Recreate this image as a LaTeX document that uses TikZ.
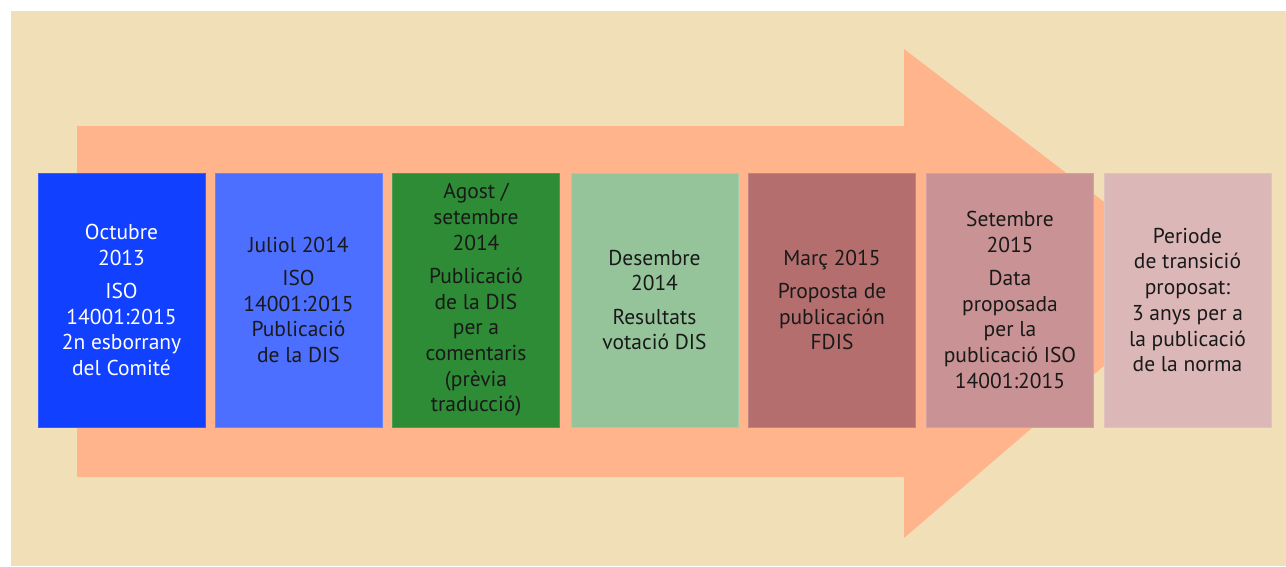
\documentclass[tikz,border=0pt]{standalone}
\usepackage{fontspec}
\setmainfont{PT Sans}
\definecolor{bgbeige}{RGB}{241,224,183}
\definecolor{arrowsalmon}{RGB}{255,180,140}
\definecolor{cA}{RGB}{18,64,255}
\definecolor{cB}{RGB}{77,111,255}
\definecolor{cC}{RGB}{46,139,54}
\definecolor{cD}{RGB}{150,196,154}
\definecolor{cE}{RGB}{181,110,110}
\definecolor{cF}{RGB}{201,146,148}
\definecolor{cG}{RGB}{220,183,183}
\tikzset{
  stagebox/.style={minimum width=167pt, minimum height=254pt, inner sep=0pt,
    align=center, text=black!90, line width=0.8pt,
    font=\fontsize{21.5}{25.7}\selectfont},
}
\begin{document}
\begin{tikzpicture}[x=1pt,y=-1pt]
\useasboundingbox (0,0) rectangle (1286,566);
\fill[bgbeige] (11,11) rectangle (1286,566);
\fill[arrowsalmon] (77,126) -- (904,126) -- (904,49) -- (1205,279) -- (904,538) -- (904,477) -- (77,477) -- cycle;
\node[stagebox, fill=cA, draw=cA!85!white, text=white] (b1) at (121.5,300)
  {Octubre\\2013\\[7.5pt]ISO\\14001:2015\\2n esborrany\\del Comité};
\node[stagebox, fill=cB, draw=cB!85!white] (b2) at (298.5,300)
  {Juliol 2014\\[7.5pt]ISO\\14001:2015\\Publicació\\de la DIS};
\node[stagebox, fill=cC, draw=cC!85!white] (b3) at (476,300)
  {Agost /\\setembre\\2014\\[7.5pt]Publicació\\de la DIS\\per a\\comentaris\\(prèvia\\traducció)};
\node[stagebox, fill=cD, draw=cD!85!white] (b4) at (654.5,300)
  {Desembre\\2014\\[7.5pt]Resultats\\votació DIS};
\node[stagebox, fill=cE, draw=cE!85!white] (b5) at (832,300)
  {Març 2015\\[7.5pt]Proposta de\\publicación\\FDIS};
\node[stagebox, fill=cF, draw=cF!85!white] (b6) at (1010,300)
  {Setembre\\2015\\[7.5pt]Data\\proposada\\per la\\publicació ISO\\14001:2015};
\node[stagebox, fill=cG, draw=cG!85!white] (b7) at (1187.5,300)
  {Periode\\de transició\\proposat:\\3 anys per a\\la publicació\\de la norma};
\end{tikzpicture}
\end{document}
